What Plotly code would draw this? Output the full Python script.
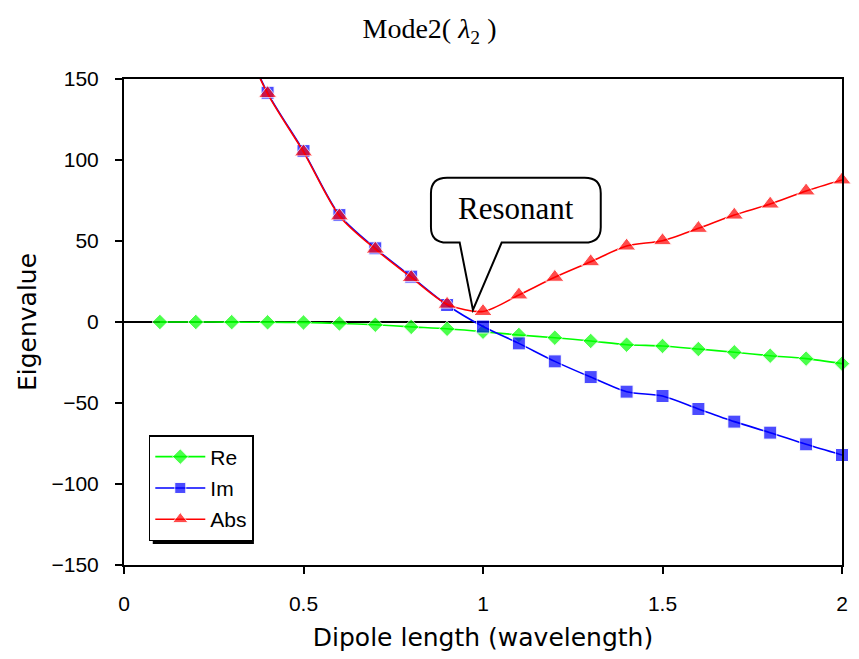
import plotly.graph_objects as go

# ---- data ----
dipole_length = [0.1, 0.2, 0.3, 0.4, 0.5, 0.6, 0.7, 0.8, 0.9, 1.0,
                 1.1, 1.2, 1.3, 1.4, 1.5, 1.6, 1.7, 1.8, 1.9, 2.0]
re_vals = [0, 0, -0.1, -0.2, -0.3, -0.9, -1.7, -3.0, -4.2, -6.0,
           -8.0, -9.7, -11.7, -14.0, -14.8, -16.7, -18.7, -20.8, -22.6, -25.7]
im_vals = [None, None, 190, 141.5, 105.5, 66, 45.5, 28, 10.5, -2.8,
           -13.2, -24.3, -34, -43, -45.7, -53.7, -61.5, -68.3, -75.5, -82.1]
abs_vals = [None, None, 190, 141, 105, 65.5, 45, 27.5, 11, 6.5,
            16.7, 27.6, 37.2, 46.9, 50.2, 57.8, 66, 72.8, 80.9, 87.7]
x_ticks = [0, 0.5, 1, 1.5, 2]
x_tick_labels = ["0", "0.5", "1", "1.5", "2"]
y_ticks = [-150, -100, -50, 0, 50, 100, 150]

# ---- layout geometry (pixels) ----
W, H = 859, 659
L, R, T, B = 124, 11, 79, 94
PW, PH = W - L - R, H - T - B


def px_x(p):
    return (p - L) / PW


def px_y(p):
    return (H - B - p) / PH


def sizes(vals, s):
    # hide markers for points beyond the visible axis range
    return [0 if (v is None or v > 150 or v < -150) else s for v in vals]


fig = go.Figure()
fig.add_trace(go.Scatter(
    x=dipole_length, y=re_vals, name="Re", mode="lines+markers",
    line=dict(color="#00FF00", width=1.6, shape="spline", smoothing=0.8),
    marker=dict(symbol="diamond", size=sizes(re_vals, 12), color="#00FF00"),
    cliponaxis=False, legendgroup="a"))
fig.add_trace(go.Scatter(
    x=dipole_length, y=im_vals, name="Im", mode="lines+markers",
    line=dict(color="#0000FF", width=1.6, shape="spline", smoothing=0.8),
    marker=dict(symbol="square", size=sizes(im_vals, 13), color="#0000FF"),
    cliponaxis=False, legendgroup="b"))
fig.add_trace(go.Scatter(
    x=dipole_length, y=abs_vals, name="Abs", mode="lines+markers",
    line=dict(color="#FF0000", width=1.6, shape="spline", smoothing=0.8),
    marker=dict(symbol="triangle-up", size=sizes(abs_vals, 16), color="#FF0000"),
    cliponaxis=False, legendgroup="c"))

# ---- callout "Resonant" ----
bx0, bx1 = 0.855, 1.328
by0, by1 = 49.0, 89.0
rx, ry = 0.045, 9.5
pa, pb = 0.935, 1.052
tip_x, tip_y = 0.972, 7.5
path = (f"M {bx0+rx},{by1} L {bx1-rx},{by1} Q {bx1},{by1} {bx1},{by1-ry} "
        f"L {bx1},{by0+ry} Q {bx1},{by0} {bx1-rx},{by0} "
        f"L {pb},{by0} L {tip_x},{tip_y} L {pa},{by0} "
        f"L {bx0+rx},{by0} Q {bx0},{by0} {bx0},{by0+ry} "
        f"L {bx0},{by1-ry} Q {bx0},{by1} {bx0+rx},{by1} Z")
fig.add_shape(type="path", path=path, xref="x", yref="y",
              line=dict(color="black", width=2), fillcolor="white", layer="above")
fig.add_annotation(x=(bx0 + bx1) / 2, y=(by0 + by1) / 2 + 1, xref="x", yref="y",
                   text="Resonant", showarrow=False,
                   font=dict(family="Liberation Serif", size=31, color="black"))

# ---- legend shadow ----
lg_l, lg_t, lg_r, lg_b = 149, 435, 251, 540
sh = 4
fig.add_shape(type="rect", xref="paper", yref="paper",
              x0=px_x(lg_l + sh), x1=px_x(lg_r + sh), y0=px_y(lg_b + sh), y1=px_y(lg_t + sh),
              fillcolor="black", line=dict(width=0), layer="above")

fig.update_layout(
    width=W, height=H,
    margin=dict(l=L, r=R, t=T, b=B),
    paper_bgcolor="white", plot_bgcolor="white",
    title=dict(text="Mode2( <i>λ</i><sub>2</sub> )", x=0.5, xref="container",
               y=1 - 28 / H, yref="container", xanchor="center", yanchor="middle",
               font=dict(family="Liberation Serif", size=28, color="black")),
    showlegend=True,
    legend=dict(x=px_x(lg_l), y=px_y(lg_t), xanchor="left", yanchor="top",
                bgcolor="white", bordercolor="black", borderwidth=1.5,
                font=dict(family="Liberation Sans", size=21, color="black"),
                tracegroupgap=1, itemwidth=50),
    xaxis=dict(range=[0, 2], tickvals=x_ticks, ticktext=x_tick_labels,
               showgrid=False, zeroline=False, showline=True, mirror=True,
               linecolor="black", linewidth=2, ticks="outside", ticklen=7,
               tickwidth=2, tickcolor="black", ticklabelstandoff=12,
               tickfont=dict(family="Liberation Sans", size=21, color="black"),
               title=dict(text="Dipole length (wavelength)", standoff=14,
                          font=dict(family="DejaVu Sans", size=25, color="black"))),
    yaxis=dict(range=[-150, 150], tickvals=y_ticks,
               showgrid=False, zeroline=True, zerolinecolor="black", zerolinewidth=2,
               showline=True, mirror=True,
               linecolor="black", linewidth=2, ticks="outside", ticklen=7,
               tickwidth=2, tickcolor="black", ticklabelstandoff=12,
               tickfont=dict(family="Liberation Sans", size=21, color="black"),
               title=dict(text="Eigenvalue", standoff=8,
                          font=dict(family="DejaVu Sans", size=25, color="black"))),
)

fig.write_html("out.html")
